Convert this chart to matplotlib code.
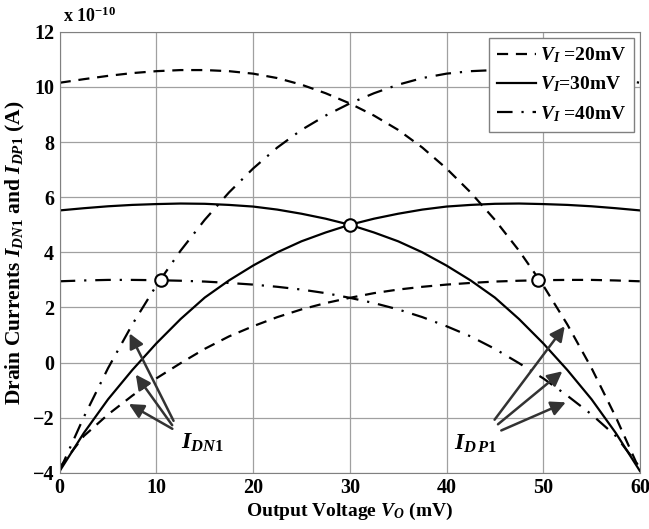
import numpy as np
import matplotlib
matplotlib.use("Agg")
import matplotlib.pyplot as plt

plt.rcParams['font.family'] = 'Liberation Serif'
plt.rcParams['font.weight'] = 'bold'
plt.rcParams['axes.labelweight'] = 'bold'
plt.rcParams['mathtext.fontset'] = 'custom'
plt.rcParams['mathtext.rm'] = 'Liberation Serif:bold'
plt.rcParams['mathtext.it'] = 'Liberation Serif:italic:bold'
plt.rcParams['mathtext.bf'] = 'Liberation Serif:bold'

# output voltage, mV
vo = [0, 2.5, 5, 7.5, 10, 12.5, 15, 17.5, 20, 22.5, 25, 27.5, 30,
      32.5, 35, 37.5, 40, 42.5, 45, 47.5, 50, 52.5, 55, 57.5, 60]

# drain currents, x 1e-10 A
idp1_20 = [10.15, 10.28, 10.40, 10.50, 10.57, 10.61, 10.61, 10.57, 10.48, 10.32, 10.08, 9.77, 9.40,
           8.96, 8.44, 7.80, 7.04, 6.17, 5.18, 4.06, 2.80, 1.38, -0.20, -1.97, -3.92]
idn1_20 = [-3.80, -2.66, -1.88, -1.20, -0.57, -0.02, 0.50, 0.95, 1.32, 1.65, 1.93, 2.16, 2.35,
           2.52, 2.65, 2.75, 2.83, 2.89, 2.94, 2.97, 2.99, 3.00, 3.00, 2.98, 2.95]
idp1_30 = [5.52, 5.60, 5.67, 5.72, 5.75, 5.77, 5.76, 5.72, 5.66, 5.55, 5.40, 5.22, 5.00,
           4.72, 4.40, 4.00, 3.52, 2.98, 2.36, 1.58, 0.70, -0.27, -1.33, -2.55, -3.93]
idn1_30 = [-3.93, -2.55, -1.33, -0.27, 0.70, 1.58, 2.36, 2.98, 3.52, 4.00, 4.40, 4.72, 5.00,
           5.22, 5.40, 5.55, 5.66, 5.72, 5.76, 5.77, 5.75, 5.72, 5.67, 5.60, 5.52]
idp1_40 = [2.95, 2.98, 3.00, 3.00, 2.99, 2.97, 2.94, 2.89, 2.83, 2.75, 2.65, 2.52, 2.35,
           2.16, 1.93, 1.65, 1.32, 0.95, 0.50, -0.02, -0.57, -1.20, -1.88, -2.66, -3.80]
idn1_40 = [-3.92, -1.97, -0.20, 1.38, 2.80, 4.06, 5.18, 6.17, 7.04, 7.80, 8.44, 8.96, 9.40,
           9.77, 10.08, 10.32, 10.48, 10.57, 10.61, 10.61, 10.57, 10.50, 10.40, 10.28, 10.15]

# operating points (crossings)
op_v = [10.5, 30, 49.5]
op_i = [3.0, 5.0, 3.0]

fig = plt.figure(figsize=(6.49, 5.29), dpi=100)
ax = fig.add_axes([0.092, 0.106, 0.894, 0.834])

dash = (0, (5, 3.5))
dashdot = (0, (7, 4, 1, 4))

ax.plot(vo, idp1_20, color='black', lw=1.6, linestyle=dash, label=r'$V_I$ =20mV')
ax.plot(vo, idp1_30, color='black', lw=1.6, linestyle='-', label=r'$V_I$=30mV')
ax.plot(vo, idp1_40, color='black', lw=1.6, linestyle=dashdot, label=r'$V_I$ =40mV')
ax.plot(vo, idn1_20, color='black', lw=1.6, linestyle=dash)
ax.plot(vo, idn1_30, color='black', lw=1.6, linestyle='-')
ax.plot(vo, idn1_40, color='black', lw=1.6, linestyle=dashdot)

ax.plot(op_v, op_i, 'o', color='black', mfc='white', ms=9, mew=1.5, zorder=5)

# arrows to the IDN1 curves
for hx, hy, tx, ty in [(7.1, 1.15, 11.9, -2.2), (7.7, -0.35, 11.8, -2.35), (6.9, -1.45, 11.9, -2.45)]:
    ax.annotate('', xy=(hx, hy), xytext=(tx, ty),
                arrowprops=dict(arrowstyle='-|>', color='#333333', lw=1.8, mutation_scale=22))
ax.text(12.5, -2.9, r'$I_{DN\mathbf{1}}$', fontsize=17, ha='left', va='center')

# arrows to the IDP1 curves
for hx, hy, tx, ty in [(52.4, 1.4, 44.8, -2.15), (52.2, -0.25, 45.1, -2.3), (52.6, -1.4, 45.4, -2.5)]:
    ax.annotate('', xy=(hx, hy), xytext=(tx, ty),
                arrowprops=dict(arrowstyle='-|>', color='#333333', lw=1.8, mutation_scale=22))
ax.text(40.8, -2.95, r'$I_{D\,P\mathbf{1}}$', fontsize=17, ha='left', va='center')

ax.set_xlim(0, 60)
ax.set_ylim(-4, 12)
ax.set_xticks(np.arange(0, 61, 10))
ax.set_yticks(np.arange(-4, 13, 2))
ax.tick_params(labelsize=14.5, length=0, pad=4)
ax.grid(True, color='#a0a0a0', lw=0.9)
for s in ax.spines.values():
    s.set_color('#808080')

ax.set_xlabel(r'Output Voltage $V_O$ (mV)', fontsize=14, labelpad=2)
ax.set_ylabel(r'Drain Currents $I_{DN\mathbf{1}}$ and $I_{DP\mathbf{1}}$ (A)', fontsize=15.5, labelpad=4)
ax.text(0.005, 1.012, r'x 10$^{\mathbf{-10}}$', transform=ax.transAxes, fontsize=13,
        ha='left', va='bottom')

leg = ax.legend(loc='upper right', fontsize=14, handlelength=2.0, handletextpad=0.2,
                fancybox=False, framealpha=1, edgecolor='#808080', borderpad=0.4,
                labelspacing=0.5, borderaxespad=0.3)
leg.get_frame().set_linewidth(1.0)

fig.savefig('out.png', dpi=100)
